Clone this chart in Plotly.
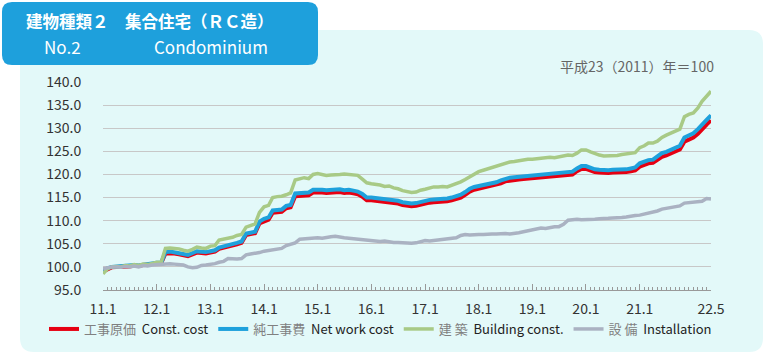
import pandas as pd
import plotly.graph_objects as go

# ---------------- data ----------------
months = pd.date_range("2011-01-01", "2022-05-01", freq="MS")

tick_dates = ["2011-01-01", "2012-01-01", "2013-01-01", "2014-01-01", "2015-01-01",
              "2016-01-01", "2017-01-01", "2018-01-01", "2019-01-01", "2020-01-01",
              "2021-01-01", "2022-05-01"]
tick_labels = ["11.1", "12.1", "13.1", "14.1", "15.1", "16.1", "17.1", "18.1",
               "19.1", "20.1", "21.1", "22.5"]

y_ticks = [95, 100, 105, 110, 115, 120, 125, 130, 135, 140]
y_labels = ["95.0", "100.0", "105.0", "110.0", "115.0", "120.0", "125.0", "130.0", "135.0", "140.0"]

const_cost = [  # 工事原価 Const. cost
    99.0, 99.6, 99.9, 100.0, 100.0, 100.2, 100.1, 100.3, 100.2, 100.4, 100.4, 100.6,
    100.8, 100.8, 102.9, 103.0, 102.9, 102.7, 102.5, 102.3, 102.7, 103.1, 103.0, 102.9,
    103.1, 103.3, 103.9, 104.1, 104.3, 104.6, 104.9, 105.2, 106.9, 107.1, 107.3, 109.4,
    109.9, 110.2, 111.7, 111.8, 111.9, 112.7, 112.9, 115.3, 115.4, 115.6, 115.5, 116.1,
    116.2, 116.1, 116.0, 116.1, 116.1, 116.2, 116.0, 116.1, 115.9, 115.7, 115.2, 114.4,
    114.4, 114.3, 114.2, 113.9, 114.0, 113.7, 113.7, 113.4, 113.2, 113.1, 113.2, 113.5,
    113.7, 113.9, 114.0, 114.0, 114.2, 114.2, 114.4, 114.7, 115.0, 115.6, 116.3, 116.7,
    116.9, 117.1, 117.3, 117.5, 117.7, 118.1, 118.5, 118.7, 118.8, 118.9, 119.0, 119.1,
    119.1, 119.2, 119.3, 119.4, 119.6, 119.6, 119.8, 120.0, 120.1, 120.0, 120.7, 121.2,
    121.2, 120.8, 120.5, 120.4, 120.3, 120.3, 120.4, 120.4, 120.5, 120.5, 120.7, 120.9,
    121.7, 122.1, 122.4, 122.5, 123.2, 123.8, 124.1, 124.5, 125.1, 125.4, 127.1, 127.6,
    128.0, 128.8, 129.9, 130.8, 131.7,
]

net_work_cost = [  # 純工事費 Net work cost
    99.0, 99.7, 100.0, 100.1, 100.1, 100.3, 100.2, 100.4, 100.3, 100.5, 100.5, 100.7,
    100.9, 100.9, 103.2, 103.3, 103.2, 103.0, 102.8, 102.6, 103.0, 103.4, 103.3, 103.2,
    103.4, 103.6, 104.2, 104.4, 104.6, 104.9, 105.2, 105.5, 107.2, 107.4, 107.6, 109.8,
    110.4, 110.7, 112.2, 112.3, 112.4, 113.2, 113.4, 115.9, 116.0, 116.2, 116.1, 116.7,
    116.8, 116.7, 116.6, 116.7, 116.7, 116.8, 116.6, 116.7, 116.5, 116.3, 115.8, 115.0,
    115.0, 114.9, 114.8, 114.5, 114.6, 114.3, 114.3, 114.0, 113.8, 113.7, 113.8, 114.1,
    114.3, 114.5, 114.6, 114.6, 114.8, 114.8, 115.0, 115.3, 115.6, 116.2, 116.9, 117.3,
    117.5, 117.7, 117.9, 118.1, 118.3, 118.7, 119.1, 119.3, 119.4, 119.5, 119.6, 119.7,
    119.7, 119.8, 119.9, 120.0, 120.2, 120.2, 120.4, 120.6, 120.7, 120.6, 121.3, 121.8,
    121.8, 121.4, 121.1, 121.0, 120.9, 120.9, 121.0, 121.0, 121.1, 121.1, 121.3, 121.5,
    122.4, 122.8, 123.1, 123.2, 124.0, 124.6, 124.9, 125.3, 125.9, 126.2, 128.0, 128.5,
    128.9, 129.8, 130.9, 131.8, 132.8,
]

building = [  # 建築 Building const.
    98.5, 99.6, 100.0, 100.1, 100.0, 100.3, 100.2, 100.5, 100.3, 100.6, 100.5, 100.8,
    101.0, 101.0, 104.0, 104.1, 104.0, 103.9, 103.6, 103.4, 103.8, 104.3, 104.1, 104.0,
    104.5, 104.6, 105.8, 106.0, 106.2, 106.4, 106.8, 107.0, 108.6, 109.0, 109.3, 111.8,
    113.0, 113.3, 115.0, 115.2, 115.3, 115.6, 116.0, 118.8, 119.0, 119.3, 119.1, 120.0,
    120.2, 120.0, 119.8, 119.9, 119.9, 120.0, 120.1, 120.0, 119.8, 119.8, 119.0, 118.2,
    118.0, 117.9, 117.7, 117.4, 117.5, 117.1, 116.9, 116.5, 116.2, 116.1, 116.2, 116.6,
    116.8, 117.0, 117.3, 117.3, 117.4, 117.3, 117.6, 118.0, 118.4, 118.9, 119.5, 120.2,
    120.6, 120.9, 121.2, 121.5, 121.8, 122.1, 122.4, 122.7, 122.8, 123.0, 123.1, 123.3,
    123.3, 123.4, 123.5, 123.6, 123.7, 123.6, 123.8, 124.0, 124.2, 124.1, 124.6, 125.3,
    125.3, 124.9, 124.5, 124.2, 124.0, 124.0, 124.0, 124.1, 124.3, 124.4, 124.6, 124.7,
    125.8, 126.2, 126.8, 126.8, 127.2, 128.0, 128.5, 129.0, 129.4, 129.8, 132.5, 133.0,
    133.3, 134.4, 135.8, 136.8, 138.0,
]

installation = [  # 設備 Installation
    99.6, 99.8, 100.0, 100.0, 99.9, 100.1, 100.0, 100.2, 100.0, 100.3, 100.2, 100.4,
    100.5, 100.5, 100.6, 100.7, 100.6, 100.5, 100.4, 100.0, 99.8, 99.9, 100.3, 100.4,
    100.5, 100.7, 101.0, 101.2, 101.8, 101.7, 101.7, 101.8, 102.6, 102.8, 102.9, 103.1,
    103.4, 103.6, 103.7, 103.8, 104.0, 104.6, 104.8, 105.2, 106.0, 106.1, 106.2, 106.2,
    106.3, 106.2, 106.4, 106.5, 106.6, 106.4, 106.3, 106.2, 106.1, 105.9, 105.8, 105.7,
    105.6, 105.6, 105.5, 105.6, 105.4, 105.3, 105.3, 105.2, 105.2, 105.1, 105.2, 105.5,
    105.7, 105.6, 105.7, 105.8, 105.9, 105.9, 106.1, 106.3, 106.8, 107.0, 106.9, 107.0,
    107.0, 107.0, 107.1, 107.1, 107.1, 107.2, 107.2, 107.1, 107.2, 107.4, 107.6, 107.8,
    108.0, 108.2, 108.4, 108.3, 108.5, 108.7, 108.7, 109.2, 110.1, 110.2, 110.3, 110.2,
    110.2, 110.3, 110.3, 110.4, 110.4, 110.5, 110.6, 110.6, 110.7, 110.8, 111.0, 111.1,
    111.2, 111.4, 111.6, 111.9, 112.1, 112.5, 112.7, 112.8, 113.0, 113.2, 113.8, 113.9,
    114.0, 114.1, 114.2, 114.8, 114.7,
]

series_names = [
    '<span style="color:#808080">工事原価</span>  Const. cost',
    '<span style="color:#808080">純工事費</span>  Net work cost',
    '<span style="color:#808080">建 築</span>  Building const.',
    '<span style="color:#808080">設 備</span>  Installation',
]

# ---------------- layout geometry (pixels) ----------------
W, H = 768, 359
PL, PR, PT, PB = 103, 711, 82, 290  # plot area edges


def px(x):
    return (x - PL) / (PR - PL)


def py(y):
    return (PB - y) / (PB - PT)


def rounded_rect(x0, y0, x1, y1, r):
    pts = [
        ("M", [(x0 + r, y0)]),
        ("L", [(x1 - r, y0)]), ("Q", [(x1, y0), (x1, y0 + r)]),
        ("L", [(x1, y1 - r)]), ("Q", [(x1, y1), (x1 - r, y1)]),
        ("L", [(x0 + r, y1)]), ("Q", [(x0, y1), (x0, y1 - r)]),
        ("L", [(x0, y0 + r)]), ("Q", [(x0, y0), (x0 + r, y0)]),
    ]
    s = ""
    for cmd, ps in pts:
        s += cmd + " " + " ".join(f"{px(a):.5f},{py(b):.5f}" for a, b in ps) + " "
    return s + "Z"


fig = go.Figure()

styles = [
    dict(color="#e60012", width=4),
    dict(color="#1ea1dc", width=4),
    dict(color="#a8ca86", width=3.5),
    dict(color="#aab2c2", width=3.5),
]
for name, vals, st in zip(series_names, [const_cost, net_work_cost, building, installation], styles):
    fig.add_trace(go.Scatter(x=months, y=vals, mode="lines", name=name, line=st))

FONT = "Noto Sans CJK JP"

fig.update_layout(
    width=W, height=H,
    margin=dict(l=PL, r=W - PR, t=PT, b=H - PB),
    paper_bgcolor="white",
    plot_bgcolor="rgba(0,0,0,0)",
    font=dict(family=FONT, size=13, color="#333333"),
    showlegend=True,
    legend=dict(
        orientation="h", x=px(44), y=py(314), xanchor="left", yanchor="top",
        font=dict(family=FONT, size=13, color="#222222"),
        bgcolor="rgba(0,0,0,0)", itemwidth=30, traceorder="normal",
    ),
    xaxis=dict(
        range=["2011-01-01", "2022-05-01"],
        tickvals=tick_dates, ticktext=tick_labels,
        ticks="inside", ticklen=6, tickcolor="#999999",
        minor=dict(dtick="M1", ticks="inside", ticklen=3, tickcolor="#999999", showgrid=False),
        showline=True, linecolor="#999999", linewidth=1,
        showgrid=False, zeroline=False,
        ticklabelstandoff=6,
        tickfont=dict(family=FONT, size=14, color="#333333"),
    ),
    yaxis=dict(
        range=[95, 140], tickvals=y_ticks, ticktext=y_labels,
        showgrid=True, gridcolor="#c8c8c8", gridwidth=1,
        zeroline=False, showline=False,
        ticks="outside", ticklen=18, tickcolor="rgba(0,0,0,0)",
        tickfont=dict(family=FONT, size=14, color="#333333"),
    ),
)

# light background panel
fig.add_shape(type="path", xref="paper", yref="paper", layer="below",
              path=rounded_rect(20, 30, 763, 352, 14),
              fillcolor="#e3f9f9", line=dict(width=0))
# title box
fig.add_shape(type="path", xref="paper", yref="paper", layer="above",
              path=rounded_rect(2, 2, 318, 65, 10),
              fillcolor="#1ea0dc", line=dict(width=0))

fig.add_annotation(xref="paper", yref="paper", x=px(24), y=py(21), xanchor="left", yanchor="middle",
                   text="<b>建物種類２　集合住宅（ＲＣ造）</b>", showarrow=False,
                   font=dict(family=FONT, size=16.5, color="white"))
fig.add_annotation(xref="paper", yref="paper", x=px(42), y=py(47), xanchor="left", yanchor="middle",
                   text="No.2", showarrow=False,
                   font=dict(family=FONT, size=17, color="white"))
fig.add_annotation(xref="paper", yref="paper", x=px(152), y=py(47), xanchor="left", yanchor="middle",
                   text="Condominium", showarrow=False,
                   font=dict(family=FONT, size=17, color="white"))
fig.add_annotation(xref="paper", yref="paper", x=px(716), y=py(66), xanchor="right", yanchor="middle",
                   text="平成23（2011）年＝100", showarrow=False,
                   font=dict(family=FONT, size=14, color="#666666"))

fig.write_html(
    "out.html",
    config={"displayModeBar": False},
    post_script="document.body.style.margin='0px';document.body.style.overflow='hidden';",
)
